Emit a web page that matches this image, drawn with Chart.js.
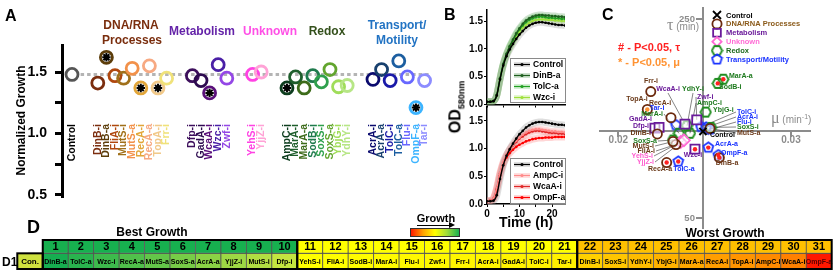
<!DOCTYPE html>
<html>
<head>
<meta charset="utf-8">
<script src="https://cdn.jsdelivr.net/npm/chart.js"></script>
<style>
  html, body { margin: 0; padding: 0; background: #fff; }
  #wrap { position: relative; width: 836px; height: 274px; overflow: hidden; font-family: "Liberation Sans", Arial, sans-serif; }
  #wrap canvas { position: absolute; left: 0; top: 0; }
  .t { position: absolute; white-space: nowrap; font-weight: bold; line-height: 1; }
  .c { transform: translate(-50%, -50%); }
</style>
</head>
<body>
<div id="wrap">
  <canvas id="chartA" width="836" height="274"></canvas>
  <canvas id="chartB1" width="836" height="274"></canvas>
  <canvas id="chartB2" width="836" height="274"></canvas>
  <canvas id="chartC" width="836" height="274"></canvas>
  <canvas id="chartD" width="836" height="274"></canvas>

  <div class="t" style="left:5px;top:8px;font-size:16px">A</div>
  <div class="t" style="left:444px;top:7px;font-size:16px">B</div>
  <div class="t" style="left:602px;top:7px;font-size:16px">C</div>
  <div class="t" style="left:27px;top:218px;font-size:18px">D</div>

  <div class="t c" style="left:457px;top:107px;font-size:16px;transform:translate(-50%,-50%) rotate(-90deg)">OD<sub style="font-size:9px">580nm</sub></div>

  <div class="t" style="left:618px;top:42px;font-size:11px;color:#ff1f1f"># - P&lt;0.05, &tau;</div>
  <div class="t" style="left:618px;top:57px;font-size:11px;color:#ff9333">* - P&lt;0.05, &mu;</div>
  <div class="t" style="right:137px;top:17px;color:#8c8c8c"><span style="font-family:'Liberation Serif',serif;font-size:16px;font-weight:normal">&tau;</span><span style="font-size:10px;font-weight:normal"> (min)</span></div>
  <div class="t" style="left:771px;top:110px;color:#8c8c8c"><span style="font-family:'Liberation Serif',serif;font-size:16px;font-weight:normal">&mu;</span><span style="font-size:10px;font-weight:normal"> (min<sup style="font-size:7px">-1</sup>)</span></div>

  <div class="t c" style="left:152px;top:232px;font-size:12px">Best Growth</div>
  <div class="t c" style="left:725px;top:233px;font-size:12px">Worst Growth</div>
  <div class="t" style="left:2px;top:256px;font-size:12px">D1</div>

  <div class="t c" style="left:436px;top:218px;font-size:11px">Growth</div>
  <div style="position:absolute;left:417px;top:224.5px;width:33px;height:1.5px;background:#000"></div>
  <div style="position:absolute;left:449px;top:222px;width:0;height:0;border-left:6px solid #000;border-top:3.2px solid transparent;border-bottom:3.2px solid transparent"></div>
  <div style="position:absolute;left:410px;top:228px;width:50px;height:9px;box-sizing:border-box;border:1px solid #333;background:linear-gradient(to right,#ff1a00,#ffa000 25%,#ffff00 50%,#9fdc3a 75%,#18b04f)"></div>
</div>

<script>
// ---------- Panel A: normalized growth ----------
const controlGrowth = 1.48;
const dnaGenes = ['DinB-i', 'DinB-a', 'FliA-i', 'MutS-i', 'MutS-a', 'RecA-i', 'RecA-a', 'TopA-i', 'Frr-i'];
const dnaGrowth = [1.41, 1.62, 1.47, 1.45, 1.53, 1.37, 1.55, 1.37, 1.45];
const metabGenes = ['Dfp-i', 'GadA-i', 'WcaA-i', 'Wzc-i', 'Zwf-i'];
const metabGrowth = [1.47, 1.43, 1.33, 1.56, 1.45];
const unknownGenes = ['YehS-i', 'YjjZ-i'];
const unknownGrowth = [1.48, 1.50];
const redoxGenes = ['AmpC-i', 'MarA-i', 'MarA-a', 'SodB-i', 'SoxS-i', 'SoxS-a', 'YbjG-i', 'YdhY-i'];
const redoxGrowth = [1.37, 1.46, 1.37, 1.47, 1.42, 1.52, 1.38, 1.39];
const transportGenes = ['AcrA-i', 'AcrA-a', 'TolC-i', 'TolC-a', 'Flu-i', 'OmpF-a', 'Tar-i'];
const transportGrowth = [1.44, 1.52, 1.43, 1.59, 1.46, 1.21, 1.43];
const starredGenes = ['DinB-a', 'RecA-i', 'TopA-i', 'WcaA-i', 'AmpC-i', 'OmpF-a'];
const growthTicks = [0.5, 0.75, 1.0, 1.25, 1.5];

// ---------- Panel B: growth curves ----------
const hours = [0, 1, 2, 3, 4, 5, 6, 7, 8, 9, 10, 11, 12, 13, 14, 15, 16, 17, 18, 19, 20, 21, 22, 23, 24];
const odControl = [0.05, 0.05, 0.06, 0.16, 0.45, 0.70, 0.87, 0.99, 1.09, 1.18, 1.26, 1.32, 1.38, 1.42, 1.45, 1.47, 1.48, 1.48, 1.47, 1.46, 1.45, 1.44, 1.43, 1.43, 1.42];
const odDinBa = [0.05, 0.05, 0.06, 0.17, 0.47, 0.73, 0.91, 1.05, 1.17, 1.28, 1.37, 1.45, 1.51, 1.55, 1.58, 1.60, 1.61, 1.61, 1.60, 1.60, 1.59, 1.59, 1.58, 1.58, 1.57];
const odTolCa = [0.05, 0.05, 0.06, 0.17, 0.46, 0.72, 0.90, 1.04, 1.15, 1.26, 1.35, 1.42, 1.48, 1.52, 1.55, 1.57, 1.58, 1.58, 1.57, 1.56, 1.56, 1.55, 1.55, 1.54, 1.54];
const odWzci = [0.05, 0.05, 0.06, 0.16, 0.46, 0.71, 0.89, 1.02, 1.13, 1.23, 1.31, 1.38, 1.43, 1.47, 1.50, 1.52, 1.53, 1.53, 1.53, 1.52, 1.52, 1.51, 1.51, 1.50, 1.50];
const odAmpCi = [0.05, 0.06, 0.10, 0.29, 0.56, 0.76, 0.89, 0.99, 1.07, 1.14, 1.20, 1.25, 1.29, 1.32, 1.34, 1.35, 1.35, 1.34, 1.33, 1.32, 1.31, 1.31, 1.30, 1.30, 1.29];
const odWcaAi = [0.05, 0.06, 0.10, 0.28, 0.55, 0.75, 0.88, 0.98, 1.06, 1.12, 1.18, 1.22, 1.26, 1.29, 1.31, 1.32, 1.32, 1.31, 1.30, 1.29, 1.28, 1.28, 1.27, 1.27, 1.26];
const odOmpFa = [0.05, 0.06, 0.09, 0.26, 0.52, 0.72, 0.84, 0.92, 0.98, 1.03, 1.07, 1.10, 1.13, 1.15, 1.17, 1.18, 1.19, 1.19, 1.20, 1.20, 1.20, 1.21, 1.21, 1.21, 1.21];
const odTicks = [0, 0.5, 1.0, 1.5];
const hourTicks = [0, 5, 10, 15, 20];

// ---------- Panel C: growth rate (mu) vs lag (tau) ----------
const controlMu = 0.0249;
const controlTau = 137;
const dnaMu = [0.02226, 0.02585, 0.02334, 0.02317, 0.02531, 0.02305, 0.02280, 0.02168, 0.02188];
const dnaTau = [134.4, 110.6, 123.8, 126.8, 140.0, 150.8, 105.7, 159.0, 177.0];
const metabMu = [0.02212, 0.02236, 0.02386, 0.02444, 0.02454];
const metabTau = [140.3, 141.0, 144.3, 119.1, 148.6];
const unknownMu = [0.02361, 0.02380];
const unknownTau = [126.3, 128.0];
const redoxMu = [0.02415, 0.02351, 0.02608, 0.02576, 0.02537, 0.02317, 0.02506, 0.02398];
const redoxTau = [135.1, 135.1, 189.4, 185.2, 141.0, 128.3, 156.4, 142.7];
const transportMu = [0.02508, 0.02521, 0.02479, 0.02347, 0.02531, 0.02579, 0.02334];
const transportTau = [141.0, 120.7, 141.5, 106.7, 139.0, 113.2, 143.3];
const tauSignificant = ['RecA-a', 'DinB-a', 'Wzc-i', 'MarA-a', 'SodB-i', 'TolC-a', 'AcrA-a', 'OmpF-a'];
const muSignificant = ['TopA-i'];
const muTicks = [0.02, 0.03];
const tauTicks = [50, 250];

// ---------- Panel D: growth ranking ----------
const rankOrder = ['DinB-a', 'TolC-a', 'Wzc-i', 'RecA-a', 'MutS-a', 'SoxS-a', 'AcrA-a', 'YjjZ-i', 'MutS-i', 'Dfp-i',
  'YehS-i', 'FliA-i', 'SodB-i', 'MarA-i', 'Flu-i', 'Zwf-i', 'Frr-i', 'AcrA-i', 'GadA-i', 'TolC-i', 'Tar-i',
  'DinB-i', 'SoxS-i', 'YdhY-i', 'YbjG-i', 'MarA-a', 'RecA-i', 'TopA-i', 'AmpC-i', 'WcaA-i', 'OmpF-a'];
const rankGroups = [[1, 10], [11, 21], [22, 31]];

const FONT = '"Liberation Sans", Arial, sans-serif';
Chart.defaults.font.family = FONT;
Chart.defaults.animation = false;
Chart.defaults.events = [];
Chart.defaults.plugins.legend.display = false;
Chart.defaults.plugins.tooltip.enabled = false;

// ================= A =================
const dnaColors = ['#7b2d0e', '#5c3d0a', '#b0480f', '#a0701a', '#f2914a', '#e2a63a', '#f7a982', '#f1c98a', '#f0e27a'];
const metabColors = ['#3d0f5c', '#2e0b50', '#5a0f7a', '#4a1fa6', '#9447e6'];
const unknownColors = ['#ff42e3', '#ffa3d6'];
const redoxColors = ['#0d3d1e', '#1e5e2c', '#3d6b1a', '#1f7a4d', '#2fa04d', '#62a52e', '#a0dd5a', '#b7e686'];
const transportColors = ['#0a0a6e', '#18406e', '#1a1aa8', '#1c5ea0', '#6868ff', '#3cb4ff', '#8c8cff'];

const groupsA = [
  { genes: dnaGenes, growth: dnaGrowth, colors: dnaColors },
  { genes: metabGenes, growth: metabGrowth, colors: metabColors },
  { genes: unknownGenes, growth: unknownGrowth, colors: unknownColors },
  { genes: redoxGenes, growth: redoxGrowth, colors: redoxColors },
  { genes: transportGenes, growth: transportGrowth, colors: transportColors }
];
const catA = [{ name: 'Control', x: 0, y: controlGrowth, color: '#555555', label: '#000' }];
let slot = 0;
groupsA.forEach(g => {
  slot += 2;
  g.genes.forEach((n, i) => {
    slot++;
    catA.push({ name: n, x: slot, y: g.growth[i], color: g.colors[i], label: g.colors[i] });
  });
});

const groupTitlesA = [
  ['DNA/RNA', 131, 26, '#7a2e0e'], ['Processes', 132, 41, '#7a2e0e'],
  ['Metabolism', 202, 32, '#6423a8'], ['Unknown', 270, 32, '#ff4fe6'],
  ['Redox', 327, 32, '#34501c'], ['Transport/', 397, 26, '#2273c3'], ['Motility', 397, 41, '#2273c3']
];

const labelsA = {
  id: 'labelsA',
  afterDatasetsDraw(chart) {
    const { ctx } = chart;
    const xs = chart.scales.x;
    ctx.save();
    ctx.font = 'bold 10.5px ' + FONT;
    ctx.textAlign = 'right';
    ctx.textBaseline = 'middle';
    catA.forEach(c => {
      ctx.save();
      ctx.translate(xs.getPixelForValue(c.x), 124);
      ctx.rotate(-Math.PI / 2);
      ctx.fillStyle = c.label;
      ctx.fillText(c.name, 0, 0);
      ctx.restore();
    });
    ctx.font = 'bold 12px ' + FONT;
    ctx.textAlign = 'center';
    groupTitlesA.forEach(([t, x, y, col]) => {
      ctx.fillStyle = col;
      ctx.fillText(t, x, y);
    });
    ctx.restore();
  }
};

new Chart(document.getElementById('chartA'), {
  type: 'scatter',
  data: {
    datasets: [
      {
        data: catA.filter(c => starredGenes.includes(c.name)).map(c => ({ x: c.x, y: c.y })),
        pointStyle: 'star', pointRadius: 4.2, pointBorderColor: '#000', pointBorderWidth: 2,
        order: 0
      },
      {
        data: catA.map(c => ({ x: c.x, y: c.y })),
        pointRadius: 6, pointBorderWidth: 2.8,
        pointBorderColor: catA.map(c => c.color),
        pointBackgroundColor: catA.map(c => (c.name === 'Control' || starredGenes.includes(c.name)) ? '#fff' : 'rgba(0,0,0,0)'),
        order: 1
      },
      {
        type: 'line', showLine: true,
        data: [{ x: 1, y: controlGrowth }, { x: 41.6, y: controlGrowth }],
        borderColor: '#b4b4b4', borderWidth: 3, borderDash: [3.5, 3], pointRadius: 0,
        order: 2
      }
    ]
  },
  options: {
    responsive: false,
    layout: { padding: { left: 0, top: 45, right: 392, bottom: 78 } },
    scales: {
      x: { type: 'linear', display: false, min: -1.163, max: 43.26 },
      y: {
        min: 0.49, max: 1.72,
        afterFit: s => { s.width = 62; },
        afterBuildTicks: s => { s.ticks = growthTicks.map(v => ({ value: v })); },
        border: { display: true, width: 3, color: '#000' },
        grid: { drawOnChartArea: false, tickLength: 7, lineWidth: 3, color: '#000' },
        ticks: {
          color: '#000', padding: 8, font: { size: 14, weight: 'bold' },
          callback: v => (Math.abs(v * 2 - Math.round(v * 2)) < 1e-6 ? v.toFixed(1) : '')
        },
        title: { display: true, text: 'Normalized Growth', color: '#000', font: { size: 12, weight: 'bold' }, padding: { top: 14.5, bottom: 0 } }
      }
    }
  },
  plugins: [labelsA]
});

// ================= B =================
function odSeries(label, values, color, band) {
  const pts = values.map((v, i) => ({ x: hours[i], y: v }));
  return [
    {
      label: label, legendEntry: true, bandColor: band,
      data: pts, borderColor: color, backgroundColor: color, borderWidth: 1.4,
      pointRadius: 1.3, pointBorderWidth: 0, pointBackgroundColor: color,
      cubicInterpolationMode: 'monotone', order: 1
    },
    {
      data: pts, borderColor: band, borderWidth: 7, pointRadius: 0,
      cubicInterpolationMode: 'monotone', order: 5
    }
  ];
}

const boxLegend = {
  id: 'boxLegend',
  afterDraw(chart, args, opts) {
    const { ctx } = chart;
    const [x, y, w, h] = opts.box;
    ctx.save();
    ctx.fillStyle = '#fff';
    ctx.fillRect(x, y, w, h);
    ctx.strokeStyle = '#8a8a8a';
    ctx.lineWidth = 1;
    ctx.strokeRect(x + 0.5, y + 0.5, w, h);
    const items = chart.data.datasets.filter(d => d.legendEntry);
    ctx.font = 'bold 8.5px ' + FONT;
    ctx.textBaseline = 'middle';
    items.forEach((d, i) => {
      const cy = y + 6.5 + i * 11;
      ctx.strokeStyle = d.bandColor; ctx.lineWidth = 5;
      ctx.beginPath(); ctx.moveTo(x + 4, cy); ctx.lineTo(x + 20, cy); ctx.stroke();
      ctx.strokeStyle = d.borderColor; ctx.lineWidth = 1.2;
      ctx.beginPath(); ctx.moveTo(x + 4, cy); ctx.lineTo(x + 20, cy); ctx.stroke();
      ctx.fillStyle = d.borderColor;
      ctx.beginPath(); ctx.arc(x + 12, cy, 1.6, 0, Math.PI * 2); ctx.fill();
      ctx.fillStyle = '#000';
      ctx.fillText(d.label, x + 23, cy + 0.5);
    });
    ctx.restore();
  }
};

function odOptions(padTop, padBottom, yMax, xHeight, showX, legendBox) {
  return {
    responsive: false,
    layout: { padding: { left: 440, top: padTop, right: 271, bottom: padBottom } },
    plugins: { boxLegend: { box: legendBox } },
    scales: {
      x: {
        type: 'linear', min: 0, max: 24,
        afterFit: s => { s.height = xHeight; },
        afterBuildTicks: s => { s.ticks = hourTicks.map(v => ({ value: v })); },
        border: { color: '#000', width: 1.5 },
        grid: { drawOnChartArea: false, tickLength: 3, color: '#000', lineWidth: 1 },
        ticks: { display: showX, color: '#000', padding: 1, font: { size: 10, weight: 'bold' }, maxRotation: 0,
          callback: v => (v % 10 === 0 ? v : '') },
        title: { display: showX, text: 'Time (h)', color: '#000', font: { size: 14, weight: 'bold' }, padding: { top: 0, bottom: 0.6 } }
      },
      y: {
        min: 0, max: yMax,
        afterFit: s => { s.width = 47; },
        afterBuildTicks: s => { s.ticks = odTicks.map(v => ({ value: v })); },
        border: { color: '#000', width: 1.5 },
        grid: { drawOnChartArea: false, tickLength: 3, color: '#000', lineWidth: 1 },
        ticks: { color: '#000', padding: 1, font: { size: 10, weight: 'bold' }, callback: v => v.toFixed(1) }
      }
    }
  };
}

const greyBand = 'rgba(160,160,160,0.35)';
new Chart(document.getElementById('chartB1'), {
  type: 'line',
  data: {
    datasets: [].concat(
      odSeries('Control', odControl, '#000000', greyBand),
      odSeries('DinB-a', odDinBa, '#1e5e1e', 'rgba(60,140,60,0.25)'),
      odSeries('TolC-a', odTolCa, '#22a022', 'rgba(80,190,80,0.25)'),
      odSeries('Wzc-i', odWzci, '#9ee03a', 'rgba(170,230,100,0.3)')
    )
  },
  options: odOptions(10, 274 - 104.5 - 3, 1.7, 3, false, [510, 58, 55, 44]),
  plugins: [boxLegend]
});

new Chart(document.getElementById('chartB2'), {
  type: 'line',
  data: {
    datasets: [].concat(
      odSeries('Control', odControl, '#000000', greyBand),
      odSeries('AmpC-i', odAmpCi, '#ff8a8a', 'rgba(255,150,150,0.3)'),
      odSeries('WcaA-i', odWcaAi, '#e02828', 'rgba(240,100,100,0.25)'),
      odSeries('OmpF-a', odOmpFa, '#ff0000', 'rgba(255,90,90,0.25)')
    )
  },
  options: odOptions(107, 42, 1.75, 28, true, [510, 158, 55, 45]),
  plugins: [boxLegend]
});

// ================= C =================
function polyStyle(n, color, size, rot) {
  const c = document.createElement('canvas');
  c.width = size; c.height = size;
  const g = c.getContext('2d');
  const r = size / 2 - 1.3;
  g.beginPath();
  for (let k = 0; k < n; k++) {
    const a = rot + k * 2 * Math.PI / n;
    const px = size / 2 + r * Math.cos(a), py = size / 2 + r * Math.sin(a);
    if (k) g.lineTo(px, py); else g.moveTo(px, py);
  }
  g.closePath();
  g.lineWidth = 1.8;
  g.strokeStyle = color;
  g.stroke();
  return c;
}
const hexStyle = polyStyle(6, '#1e8c1e', 13, 0);
const pentStyle = polyStyle(5, '#1a33ff', 13, -Math.PI / 2);

const groupsC = [
  { legend: 'DNA/RNA Processes', genes: dnaGenes, mu: dnaMu, tau: dnaTau, style: 'circle', radius: 4.6, color: '#6b2a0e', text: '#6b3a1a', legendText: '#8a5a1a' },
  { legend: 'Metabolism', genes: metabGenes, mu: metabMu, tau: metabTau, style: 'rect', radius: 6.4, color: '#6a1a9a', text: '#6a1a9a', legendText: '#6a1a9a' },
  { legend: 'Unknown', genes: unknownGenes, mu: unknownMu, tau: unknownTau, style: 'rectRot', radius: 6, color: '#ff6ad5', text: '#ff5fd0', legendText: '#ff6ad5' },
  { legend: 'Redox', genes: redoxGenes, mu: redoxMu, tau: redoxTau, style: hexStyle, radius: 6, color: '#1e8c1e', text: '#1e7a1e', legendText: '#1e6a1e' },
  { legend: 'Transport/Motility', genes: transportGenes, mu: transportMu, tau: transportTau, style: pentStyle, radius: 6, color: '#1a33ff', text: '#1a33ff', legendText: '#1a33ff' }
];
const pointC = {};
const colorC = { 'Control': '#000' };
groupsC.forEach(g => g.genes.forEach((n, i) => { pointC[n] = { x: g.mu[i], y: g.tau[i] }; colorC[n] = g.text; }));
pointC['Control'] = { x: controlMu, y: controlTau };

// label anchor [x, y, align, leader line]
const cLabelLayout = {
  'Frr-i': [651, 81, 'center', false], 'WcaA-i': [668, 89, 'center', true], 'YdhY-i': [693, 89, 'center', true],
  'TopA-i': [637, 99, 'center', false], 'RecA-i': [660, 103, 'center', false], 'Tar-i': [657, 108, 'center', false],
  'MarA-i': [663, 114, 'right', true], 'GadA-i': [652, 119, 'right', false], 'Dfp-i': [649, 126, 'right', false],
  'DinB-i': [651, 133, 'right', false], 'SoxS-a': [657, 141, 'right', true], 'MutS-i': [654, 146, 'right', true],
  'FliA-i': [655, 151, 'right', true], 'YehS-i': [653, 156, 'right', true], 'YjjZ-i': [654, 162, 'right', true],
  'RecA-a': [660, 169, 'center', false], 'TolC-a': [684, 169, 'center', false], 'Wzc-i': [693, 155, 'center', false],
  'AcrA-a': [715, 144, 'left', false], 'OmpF-a': [721, 153, 'left', false], 'DinB-a': [727, 163, 'center', false],
  'Control': [710, 135, 'left', true], 'MutS-a': [737, 133, 'left', true], 'SoxS-i': [737, 127, 'left', true],
  'Flu-i': [737, 122, 'left', true], 'AcrA-i': [737, 117, 'left', true], 'TolC-i': [737, 112, 'left', true],
  'YbjG-i': [713, 110, 'left', false], 'AmpC-i': [697, 103, 'left', true], 'Zwf-i': [697, 97, 'left', true],
  'MarA-a': [729, 76, 'left', false], 'SodB-i': [719, 87, 'left', false]
};

function drawSymbol(ctx, style, color, r, x, y) {
  if (typeof style !== 'string') { ctx.drawImage(style, x - style.width / 2, y - style.height / 2); return; }
  ctx.strokeStyle = color; ctx.lineWidth = 1.8;
  ctx.beginPath();
  if (style === 'circle') ctx.arc(x, y, r, 0, Math.PI * 2);
  else if (style === 'rect') ctx.rect(x - r * 0.7, y - r * 0.7, r * 1.4, r * 1.4);
  else if (style === 'rectRot') { ctx.moveTo(x - r, y); ctx.lineTo(x, y - r); ctx.lineTo(x + r, y); ctx.lineTo(x, y + r); ctx.closePath(); }
  else if (style === 'crossRot') { ctx.moveTo(x - r, y - r); ctx.lineTo(x + r, y + r); ctx.moveTo(x + r, y - r); ctx.lineTo(x - r, y + r); }
  ctx.stroke();
}

const annotC = {
  id: 'annotC',
  beforeDatasetsDraw(chart) {
    const { ctx } = chart;
    const xs = chart.scales.x, ys = chart.scales.y;
    ctx.save();
    ctx.strokeStyle = '#333'; ctx.lineWidth = 0.6;
    Object.entries(cLabelLayout).forEach(([n, [lx, ly, al, lead]]) => {
      if (!lead) return;
      const sx = al === 'left' ? lx - 1 : al === 'right' ? lx + 1 : lx;
      const sy = al === 'center' ? ly + 4 : ly;
      ctx.beginPath();
      ctx.moveTo(sx, sy);
      ctx.lineTo(xs.getPixelForValue(pointC[n].x), ys.getPixelForValue(pointC[n].y));
      ctx.stroke();
    });
    ctx.restore();
  },
  afterDraw(chart) {
    const { ctx } = chart;
    const xs = chart.scales.x, ys = chart.scales.y;
    ctx.save();
    // tick labels of the crossing axes
    ctx.fillStyle = '#8c8c8c';
    ctx.font = 'bold 10px ' + FONT;
    ctx.textAlign = 'center'; ctx.textBaseline = 'top';
    const axisY = ys.getPixelForValue(controlTau), axisX = xs.getPixelForValue(controlMu);
    muTicks.forEach(v => ctx.fillText(v.toFixed(2), xs.getPixelForValue(v), axisY + 4));
    ctx.textAlign = 'right'; ctx.textBaseline = 'middle';
    ctx.font = 'bold 9.5px ' + FONT;
    tauTicks.forEach(v => ctx.fillText(String(v), axisX - 8, ys.getPixelForValue(v)));
    // point labels
    ctx.font = 'bold 7px ' + FONT;
    Object.entries(cLabelLayout).forEach(([n, [lx, ly, al]]) => {
      ctx.fillStyle = colorC[n];
      ctx.textAlign = al;
      ctx.fillText(n, lx, ly);
    });
    // legend
    const rows = [['Control', 'crossRot', '#000', 4, '#000']].concat(groupsC.map(g => [g.legend, g.style, g.color, g.style === 'rect' ? 5.5 : 4.6, g.legendText]));
    ctx.textAlign = 'left';
    ctx.font = 'bold 7.5px ' + FONT;
    rows.forEach(([t, st, col, r, tc], i) => {
      const y = 15 + i * 8.9;
      drawSymbol(ctx, st, col, r, 717, y);
      ctx.fillStyle = tc;
      ctx.fillText(t, 726, y + 0.5);
    });
    ctx.restore();
  }
};

const sigPoints = (names) => names.map(n => pointC[n]);
new Chart(document.getElementById('chartC'), {
  type: 'scatter',
  data: {
    datasets: [
      { data: sigPoints(tauSignificant), pointRadius: 2.2, pointBorderWidth: 0, pointBackgroundColor: '#ff2020', order: 0 },
      { data: sigPoints(muSignificant), pointRadius: 2.2, pointBorderWidth: 0, pointBackgroundColor: '#ff9333', order: 0 },
      { data: [pointC['Control']], pointStyle: 'crossRot', pointRadius: 5, pointBorderWidth: 2, pointBorderColor: '#000', order: 1 }
    ].concat(groupsC.map(g => ({
      data: g.genes.map(n => pointC[n]),
      pointStyle: g.style, pointRadius: g.radius, pointBorderWidth: 1.8,
      pointBorderColor: g.color, pointBackgroundColor: 'rgba(255,255,255,0.6)', order: 2
    })))
  },
  options: {
    responsive: false,
    layout: { padding: { left: 600, right: 26, top: 3, bottom: 46 } },
    scales: {
      x: {
        type: 'linear', min: 0.01894, max: 0.0311, position: { y: controlTau },
        afterFit: s => { s.height = 0; },
        afterBuildTicks: s => { s.ticks = muTicks.map(v => ({ value: v })); },
        ticks: { display: false },
        border: { color: '#8c8c8c', width: 2 },
        grid: { drawOnChartArea: false, tickLength: 5, color: '#8c8c8c', lineWidth: 2 }
      },
      y: {
        min: 39.9, max: 260.8, position: { x: controlMu },
        afterFit: s => { s.width = 0; },
        afterBuildTicks: s => { s.ticks = tauTicks.map(v => ({ value: v })); },
        ticks: { display: false },
        border: { color: '#8c8c8c', width: 2 },
        grid: { drawOnChartArea: false, tickLength: 6, color: '#8c8c8c', lineWidth: 2 }
      }
    }
  },
  plugins: [annotC]
});

// ================= D =================
const dLabels = ['Con.'].concat(rankOrder);
function mix(a, b, t) { return 'rgb(' + a.map((v, k) => Math.round(v + (b[k] - v) * t)).join(',') + ')'; }
function topColor(r) { return r <= 10 ? '#17b04f' : r <= 21 ? '#ffff00' : '#ffc000'; }
function nameColor(r) {
  if (r === 0) return '#cfe23f';
  if (r <= 10) return mix([22, 174, 80], [196, 228, 64], (r - 1) / 9);
  if (r <= 21) return mix([255, 255, 0], [255, 240, 0], (r - 11) / 10);
  if (r <= 30) return mix([255, 208, 0], [255, 128, 0], (r - 22) / 8);
  return 'rgb(255,24,0)';
}

const cellsD = {
  id: 'cellsD',
  afterDatasetsDraw(chart) {
    const { ctx } = chart;
    const xs = chart.scales.x, ys = chart.scales.y;
    ctx.save();
    ctx.textAlign = 'center'; ctx.textBaseline = 'middle';
    chart.getDatasetMeta(0).data.forEach((el, i) => {
      if (i === 0) return;
      ctx.font = 'bold 11px ' + FONT; ctx.fillStyle = '#000';
      ctx.fillText(String(i), el.x, (el.y + el.base) / 2 + 0.5);
    });
    chart.getDatasetMeta(1).data.forEach((el, i) => {
      ctx.font = (i === 0 ? 'bold 8px ' : 'bold 7px ') + FONT;
      ctx.fillStyle = i === 31 ? '#5a0000' : '#000';
      ctx.fillText(dLabels[i], el.x, (el.y + el.base) / 2 + 0.5);
    });
    const w = xs.getPixelForValue(1) - xs.getPixelForValue(0);
    const edge = i => xs.getPixelForValue(i) - w / 2;
    const yTop = ys.getPixelForValue(1.85), yMid = ys.getPixelForValue(1), yBot = ys.getPixelForValue(0);
    ctx.strokeStyle = '#000'; ctx.lineWidth = 2;
    rankGroups.forEach(([a, b]) => ctx.strokeRect(edge(a), yTop, edge(b + 1) - edge(a), yBot - yTop));
    ctx.strokeRect(edge(0), yMid, edge(1) - edge(0), yBot - yMid);
    ctx.restore();
  }
};

new Chart(document.getElementById('chartD'), {
  type: 'bar',
  data: {
    labels: dLabels,
    datasets: [
      {
        data: dLabels.map((n, i) => (i === 0 ? null : [1, 1.85])),
        backgroundColor: dLabels.map((n, i) => topColor(i)),
        borderColor: '#555', borderWidth: 0.8, borderSkipped: false,
        grouped: false, barPercentage: 1, categoryPercentage: 1
      },
      {
        data: dLabels.map(() => [0, 1]),
        backgroundColor: dLabels.map((n, i) => nameColor(i)),
        borderColor: '#555', borderWidth: 0.8, borderSkipped: false,
        grouped: false, barPercentage: 1, categoryPercentage: 1
      }
    ]
  },
  options: {
    responsive: false,
    layout: { padding: { left: 17.3, right: 4.3, top: 240, bottom: 5 } },
    scales: {
      x: { display: false },
      y: { display: false, min: 0, max: 1.85 }
    }
  },
  plugins: [cellsD]
});
</script>
</body>
</html>
